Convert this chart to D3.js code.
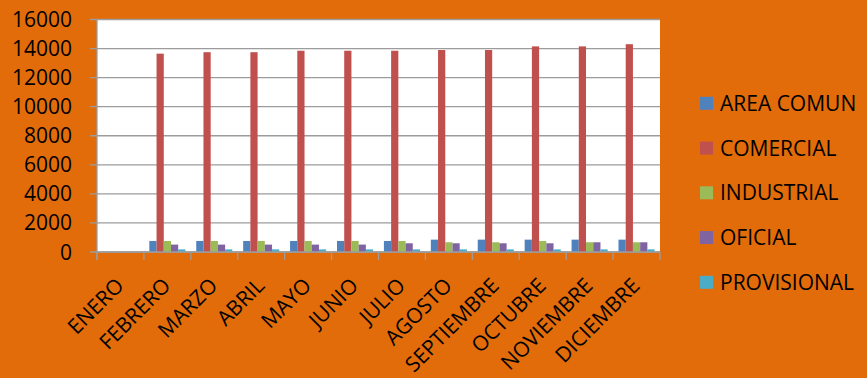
<!DOCTYPE html>
<html>
<head>
<meta charset="utf-8">
<script src="https://cdn.jsdelivr.net/npm/d3@7/dist/d3.min.js"></script>
<style>
  html, body { margin: 0; padding: 0; background: #E36C0A; }
  svg { display: block; }
  text { font-family: "Open Sans", "Liberation Sans", Arial, sans-serif; fill: #000; }
</style>
</head>
<body>
<svg id="chart" width="867" height="378"></svg>
<script>
// Monthly consumption by user class
const months = ["ENERO", "FEBRERO", "MARZO", "ABRIL", "MAYO", "JUNIO", "JULIO",
                "AGOSTO", "SEPTIEMBRE", "OCTUBRE", "NOVIEMBRE", "DICIEMBRE"];
const seriesNames = ["AREA COMUN", "COMERCIAL", "INDUSTRIAL", "OFICIAL", "PROVISIONAL"];
const seriesColors = ["#4F81BD", "#C0504D", "#9BBB59", "#8064A2", "#4BACC6"];

const areaComun   = [0, 760, 760, 760, 760, 760, 760, 850, 850, 850, 850, 850];
const comercial   = [0, 13650, 13750, 13750, 13850, 13850, 13850, 13900, 13900, 14150, 14150, 14300];
const industrial  = [0, 760, 760, 760, 760, 760, 760, 670, 670, 760, 670, 670];
const oficial     = [0, 510, 510, 510, 510, 510, 600, 600, 600, 600, 670, 670];
const provisional = [0, 180, 180, 180, 180, 180, 180, 180, 180, 180, 180, 180];

const yTicks = [0, 2000, 4000, 6000, 8000, 10000, 12000, 14000, 16000];

const seriesValues = [areaComun, comercial, industrial, oficial, provisional];

const svg = d3.select("#chart");
const plot = { left: 97, right: 660, top: 19.5, bottom: 252 };
const gridColor = "#9C9C9C";

const x0 = d3.scaleBand().domain(months).range([plot.left, plot.right]).padding(0);
const x1 = d3.scaleBand().domain(seriesNames).range([0, x0.bandwidth()])
  .paddingInner(0).paddingOuter(0.75);
const y = d3.scaleLinear().domain([0, 16000]).range([plot.bottom, plot.top]);

// plot area
svg.append("rect")
  .attr("x", plot.left).attr("y", plot.top)
  .attr("width", plot.right - plot.left).attr("height", plot.bottom - plot.top)
  .attr("fill", "#fff");

// horizontal gridlines with outer ticks
svg.append("g").selectAll("line").data(yTicks).join("line")
  .attr("x1", plot.left - 7).attr("x2", plot.right)
  .attr("y1", d => y(d)).attr("y2", d => y(d))
  .attr("stroke", gridColor).attr("stroke-width", 1.3);

// y tick labels
svg.append("g").selectAll("text").data(yTicks).join("text")
  .attr("x", 72).attr("y", d => y(d)).attr("dy", "0.36em")
  .attr("text-anchor", "end").attr("font-size", 21)
  .text(d => d);

// bars
const groups = svg.append("g").selectAll("g").data(months).join("g")
  .attr("transform", m => `translate(${x0(m)},0)`);
groups.selectAll("rect")
  .data((m, i) => seriesNames.map((s, k) => ({ s, k, v: seriesValues[k][i] })))
  .join("rect")
  .attr("x", d => x1(d.s))
  .attr("width", x1.bandwidth())
  .attr("y", d => y(d.v))
  .attr("height", d => y(0) - y(d.v))
  .attr("fill", d => seriesColors[d.k]);

// axis lines
svg.append("line")
  .attr("x1", plot.left).attr("x2", plot.left)
  .attr("y1", plot.top).attr("y2", plot.bottom + 8)
  .attr("stroke", gridColor).attr("stroke-width", 1.3);
svg.append("line")
  .attr("x1", plot.left).attr("x2", plot.right)
  .attr("y1", plot.bottom).attr("y2", plot.bottom)
  .attr("stroke", gridColor).attr("stroke-width", 1.3);

// category boundary ticks
const bounds = months.map(m => x0(m)).concat([plot.right]);
svg.append("g").selectAll("line").data(bounds).join("line")
  .attr("x1", d => d).attr("x2", d => d)
  .attr("y1", plot.bottom).attr("y2", plot.bottom + 8)
  .attr("stroke", gridColor).attr("stroke-width", 1.3);

// rotated month labels
svg.append("g").selectAll("text").data(months).join("text")
  .attr("transform", m => `translate(${x0(m) + x0.bandwidth() / 2 + 4.5},287) rotate(-45)`)
  .attr("text-anchor", "end").attr("font-size", 21)
  .text(m => m);

// legend
const legend = svg.append("g").selectAll("g").data(seriesNames).join("g")
  .attr("transform", (s, i) => `translate(700,${103.3 + i * 44.75})`);
legend.append("rect")
  .attr("x", 0).attr("y", -6.5).attr("width", 13).attr("height", 13)
  .attr("fill", (s, i) => seriesColors[i]);
legend.append("text")
  .attr("x", 20).attr("y", 0).attr("dy", "0.36em")
  .attr("font-size", 21)
  .text(s => s);
</script>
</body>
</html>
